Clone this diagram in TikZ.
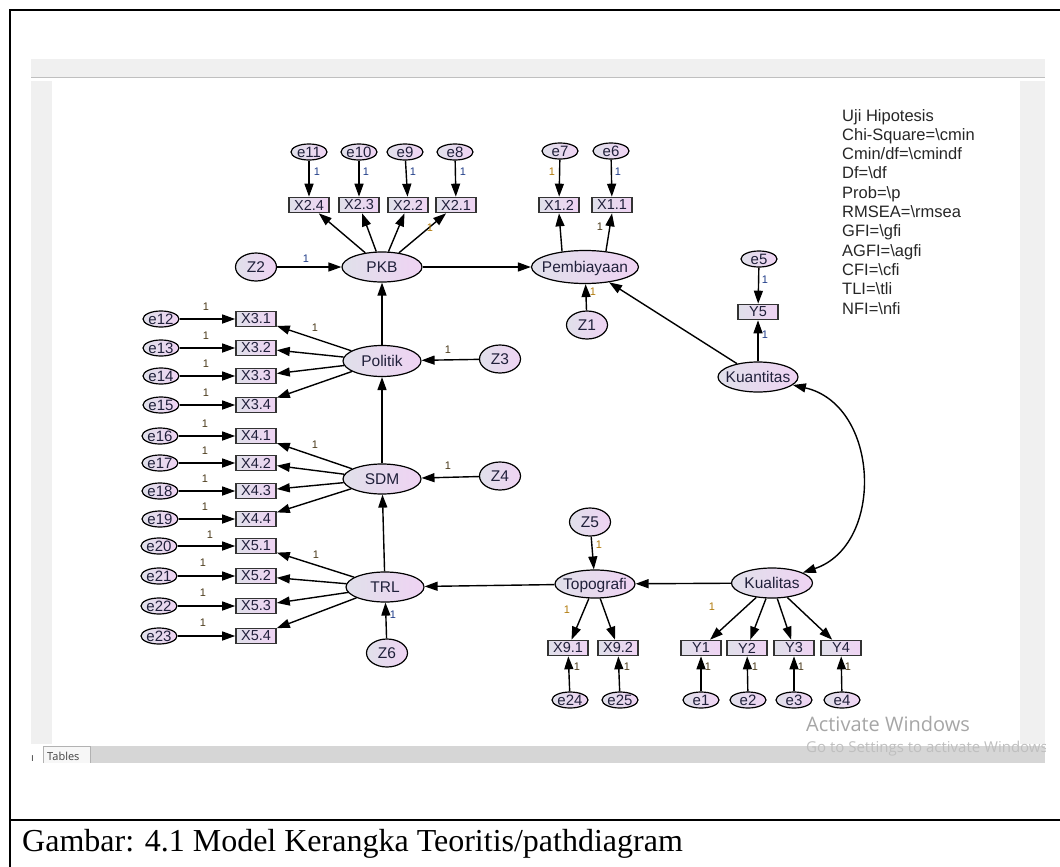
\documentclass[tikz,border=0pt]{standalone}
\usepackage{fontspec}
\setmainfont{Liberation Serif}
\newfontfamily\arialf{Liberation Sans}
\newfontfamily\segoef{Open Sans}
\usetikzlibrary{shapes.geometric,arrows.meta}
\definecolor{latL}{HTML}{E0E0EA}
\definecolor{latR}{HTML}{EFD3F3}
\definecolor{lblue}{HTML}{1F3C88}
\definecolor{lorng}{HTML}{B07A0A}
\definecolor{ldark}{HTML}{4A3A1A}
\definecolor{txt}{HTML}{20203A}
\definecolor{panel}{HTML}{F0F0F0}
\definecolor{tabbar}{HTML}{D6D6D6}
\newcommand{\zt}[1]{\makebox[0pt]{\raisebox{-0.36em}[0pt][0pt]{#1}}}
\begin{document}
\begin{tikzpicture}[x=1pt,y=-1pt,
 lat/.style={ellipse, draw=black, line width=1.2pt, left color=latL, right color=latR, inner sep=0pt, minimum width=80pt, minimum height=30pt, text=txt, font=\arialf\fontsize{15.5}{15.5}\selectfont},
 dist/.style={lat, minimum width=41pt, minimum height=28pt},
 err/.style={lat, minimum width=36pt, minimum height=16pt, font=\arialf\fontsize{15}{15}\selectfont},
 obs/.style={rectangle, draw=black!80, line width=1.6pt, left color=latL, right color=latR, inner sep=0pt, minimum width=40pt, minimum height=15pt, text=txt, font=\arialf\fontsize{14.5}{14.5}\selectfont},
 arr/.style={-{Triangle[length=13pt,width=9pt]}, line width=1.4pt},
 dbl/.style={{Triangle[length=13pt,width=9pt]}-{Triangle[length=13pt,width=9pt]}, line width=1.4pt},
 one/.style={inner sep=0pt, font=\arialf\fontsize{11}{11}\selectfont, text=lblue},
 oneo/.style={one, text=lorng},
 oned/.style={one, text=ldark},
 fitline/.style={anchor=base west, inner sep=0pt, font=\arialf\fontsize{16.5}{16.5}\selectfont, text=black!85}
]
\useasboundingbox (0,0) rectangle (1060,867);
% ---------- frame ----------
\draw[line width=2pt] (1060,10) -- (10,10) -- (10,867);
\draw[line width=2pt] (10,820) -- (1060,820);
% ---------- screenshot window ----------
\fill[panel] (31,59) rectangle (1045,77);
\draw[line width=1.2pt, black!25] (31,77.5) -- (1045,77.5);
\fill[panel] (31,81) rectangle (52,744);
\fill[panel] (1020,81) rectangle (1045,744);
\fill[tabbar] (90,746) rectangle (1045,763);
\filldraw[fill=black!3, draw=black!30] (43,763) -- (43,746) -- (90,746) -- (90,763);
\node[anchor=base west, inner sep=0pt, font=\segoef\fontsize{11}{11}\selectfont, text=black!75] (tabtxt) at (47,760) {Tables};
\node[anchor=base west, inner sep=0pt, font=\segoef\fontsize{11}{11}\selectfont, text=black!75] (tabn) at (31,761) {ı};

% ---------- fit text ----------
\foreach \t [count=\i] in {Uji Hipotesis, Chi-Square=\textbackslash cmin, Cmin/df=\textbackslash cmindf, Df=\textbackslash df, Prob=\textbackslash p, RMSEA=\textbackslash rmsea, GFI=\textbackslash gfi, AGFI=\textbackslash agfi, CFI=\textbackslash cfi, TLI=\textbackslash tli, NFI=\textbackslash nfi}
  \node[fitline] (fit\i) at (842,{121+19.3*(\i-1)}) {\t};

% ---------- latent variables ----------
\node[lat] (PKB) at (382,267) {\zt{PKB}};
\node[lat, minimum width=107pt, minimum height=33pt] (Pemb) at (585,267) {\zt{Pembiayaan}};
\node[lat, minimum width=78pt, minimum height=31pt] (Pol) at (382,361) {\zt{Politik}};
\node[lat, minimum width=78pt] (SDM) at (382,479) {\zt{SDM}};
\node[lat, minimum width=78pt] (TRL) at (385,587) {\zt{TRL}};
\node[lat, minimum height=28pt] (Topo) at (595,584) {\zt{Topografi}};
\node[lat, minimum width=81pt] (Kual) at (772,583) {\zt{Kualitas}};
\node[lat] (Kuant) at (758,377) {\zt{Kuantitas}};
% disturbances
\node[dist] (Z1) at (587,325) {\zt{Z1}};
\node[dist] (Z2) at (256,267) {\zt{Z2}};
\node[dist] (Z3) at (500,359) {\zt{Z3}};
\node[dist] (Z4) at (500,476) {\zt{Z4}};
\node[dist] (Z5) at (590,522) {\zt{Z5}};
\node[dist] (Z6) at (387,653) {\zt{Z6}};

% ---------- PKB indicators ----------
\node[obs] (X24) at (309,205) {X2.4};
\node[obs] (X23) at (359,205) {X2.3};
\node[obs] (X22) at (408,205) {X2.2};
\node[obs] (X21) at (456,205) {X2.1};
\node[err] (e11) at (309,152) {\zt{e11}};
\node[err] (e10) at (359,152) {\zt{e10}};
\node[err] (e9) at (405,152) {\zt{e9}};
\node[err] (e8) at (455,152) {\zt{e8}};
% Pembiayaan indicators
\node[obs] (X12) at (559,205) {X1.2};
\node[obs] (X11) at (612,205) {X1.1};
\node[err] (e7) at (560,151) {\zt{e7}};
\node[err] (e6) at (611,151) {\zt{e6}};
% Kuantitas indicator
\node[obs] (Y5) at (758,312) {Y5};
\node[err] (e5) at (759,259) {\zt{e5}};
% Politik indicators
\node[obs] (X31) at (256,319) {X3.1};
\node[obs] (X32) at (256,348) {X3.2};
\node[obs] (X33) at (256,376) {X3.3};
\node[obs] (X34) at (256,405) {X3.4};
\node[err] (e12) at (161,319) {\zt{e12}};
\node[err] (e13) at (161,348) {\zt{e13}};
\node[err] (e14) at (161,376) {\zt{e14}};
\node[err] (e15) at (161,405) {\zt{e15}};
% SDM indicators
\node[obs] (X41) at (256,436) {X4.1};
\node[obs] (X42) at (256,463) {X4.2};
\node[obs] (X43) at (256,491) {X4.3};
\node[obs] (X44) at (256,519) {X4.4};
\node[err] (e16) at (160,436) {\zt{e16}};
\node[err] (e17) at (160,463) {\zt{e17}};
\node[err] (e18) at (160,491) {\zt{e18}};
\node[err] (e19) at (160,519) {\zt{e19}};
% TRL indicators
\node[obs] (X51) at (256,546) {X5.1};
\node[obs] (X52) at (256,576) {X5.2};
\node[obs] (X53) at (256,606) {X5.3};
\node[obs] (X54) at (256,636) {X5.4};
\node[err] (e20) at (159,546) {\zt{e20}};
\node[err] (e21) at (159,576) {\zt{e21}};
\node[err] (e22) at (159,606) {\zt{e22}};
\node[err] (e23) at (159,636) {\zt{e23}};
% Topografi indicators
\node[obs] (X91) at (568,648) {X9.1};
\node[obs] (X92) at (618,648) {X9.2};
\node[err] (e24) at (570,700) {\zt{e24}};
\node[err] (e25) at (620,700) {\zt{e25}};
% Kualitas indicators
\node[obs] (Y1) at (701,648) {Y1};
\node[obs] (Y2) at (747,648) {Y2};
\node[obs] (Y3) at (794,648) {Y3};
\node[obs] (Y4) at (841,648) {Y4};
\node[err] (e1) at (701,700) {\zt{e1}};
\node[err] (e2) at (748,700) {\zt{e2}};
\node[err] (e3) at (794,700) {\zt{e3}};
\node[err] (e4) at (842,700) {\zt{e4}};

% ---------- connectors ----------
\foreach \a/\b in {e11/X24, e10/X23, e9/X22, e8/X21, e7/X12, e6/X11, e5/Y5,
  PKB/X24, PKB/X23, PKB/X22, PKB/X21, Z2/PKB, PKB/Pemb, Z1/Pemb, Kuant/Pemb, Kuant/Y5,
  Pol/PKB, Z3/Pol, Pol/X31, Pol/X32, Pol/X33, Pol/X34,
  e12/X31, e13/X32, e14/X33, e15/X34,
  SDM/Pol, Z4/SDM, SDM/X41, SDM/X42, SDM/X43, SDM/X44,
  e16/X41, e17/X42, e18/X43, e19/X44,
  TRL/SDM, Z6/TRL, TRL/X51, TRL/X52, TRL/X53, TRL/X54,
  e20/X51, e21/X52, e22/X53, e23/X54,
  Topo/TRL, Z5/Topo, Topo/X91, Topo/X92, e24/X91, e25/X92,
  Kual/Topo, Kual/Y1, Kual/Y2, Kual/Y3, Kual/Y4, e1/Y1, e2/Y2, e3/Y3, e4/Y4}
  \draw[arr] (\a) -- (\b);
\draw[arr] (Pemb.146) -- (X12.south);
\draw[arr] (Pemb.37) -- (X11.south);
\draw[dbl] (Kuant) .. controls (880,405) and (885,545) .. (Kual);

% ---------- regression weight labels ----------
\node[one] (l1) at (317,172) {1};
\node[one] (l2) at (366,172) {1};
\node[one] (l3) at (413,172) {1};
\node[one] (l4) at (463,172) {1};
\node[oneo] (l5) at (430,228) {1};
\node[one] (l6) at (306,259) {1};
\node[oneo] (l7) at (552,172) {1};
\node[one] (l8) at (618,172) {1};
\node[oned] (l9) at (600,227) {1};
\node[oneo] (l10) at (593,292) {1};
\node[one] (l11) at (765,280) {1};
\node[one] (l12) at (765,335) {1};
\node[oned] (l13) at (448,350) {1};
\node[oned] (l14) at (448,466) {1};
\node[oned] (l15) at (315,328) {1};
\node[oned] (l16) at (315,445) {1};
\node[oned] (l17) at (316,555) {1};
\foreach \y [count=\i] in {319,348,376,405} \node[oned] (la\i) at (206,\y-12) {1};
\foreach \y [count=\i] in {436,463,491,519} \node[oned] (lb\i) at (205,\y-12) {1};
\node[oned] (lc1) at (210,535) {1};
\foreach \y [count=\i] in {576,606,636} \node[oned] (lc\i x) at (203,\y-13) {1};
\node[one] (l18) at (393,615) {1};
\node[oneo] (l19) at (599,545) {1};
\node[oneo] (l20) at (567,610) {1};
\node[oned] (l21) at (577,667) {1};
\node[oned] (l22) at (627,667) {1};
\node[oneo] (l23) at (712,607) {1};
\foreach \x [count=\i] in {708,755,801,848} \node[oned] (ld\i) at (\x,667) {1};

% ---------- watermark ----------
\node[anchor=base west, inner sep=0pt, font=\segoef\fontsize{20}{20}\selectfont, text=black!35] (wm1) at (806,731) {Activate Windows};
\begin{scope}
\clip (800,735) rectangle (1045,765);
\node[anchor=base west, inner sep=0pt, font=\segoef\fontsize{15}{15}\selectfont, text=black!25] (wm2) at (806,752) {Go to Settings to activate Windows.};
\end{scope}

% ---------- caption ----------
\node[anchor=base west, inner sep=0pt, font=\fontsize{32}{32}\selectfont] (cap) at (22,851) {Gambar: 4.1 Model Kerangka Teoritis/pathdiagram};
\end{tikzpicture}
\end{document}
